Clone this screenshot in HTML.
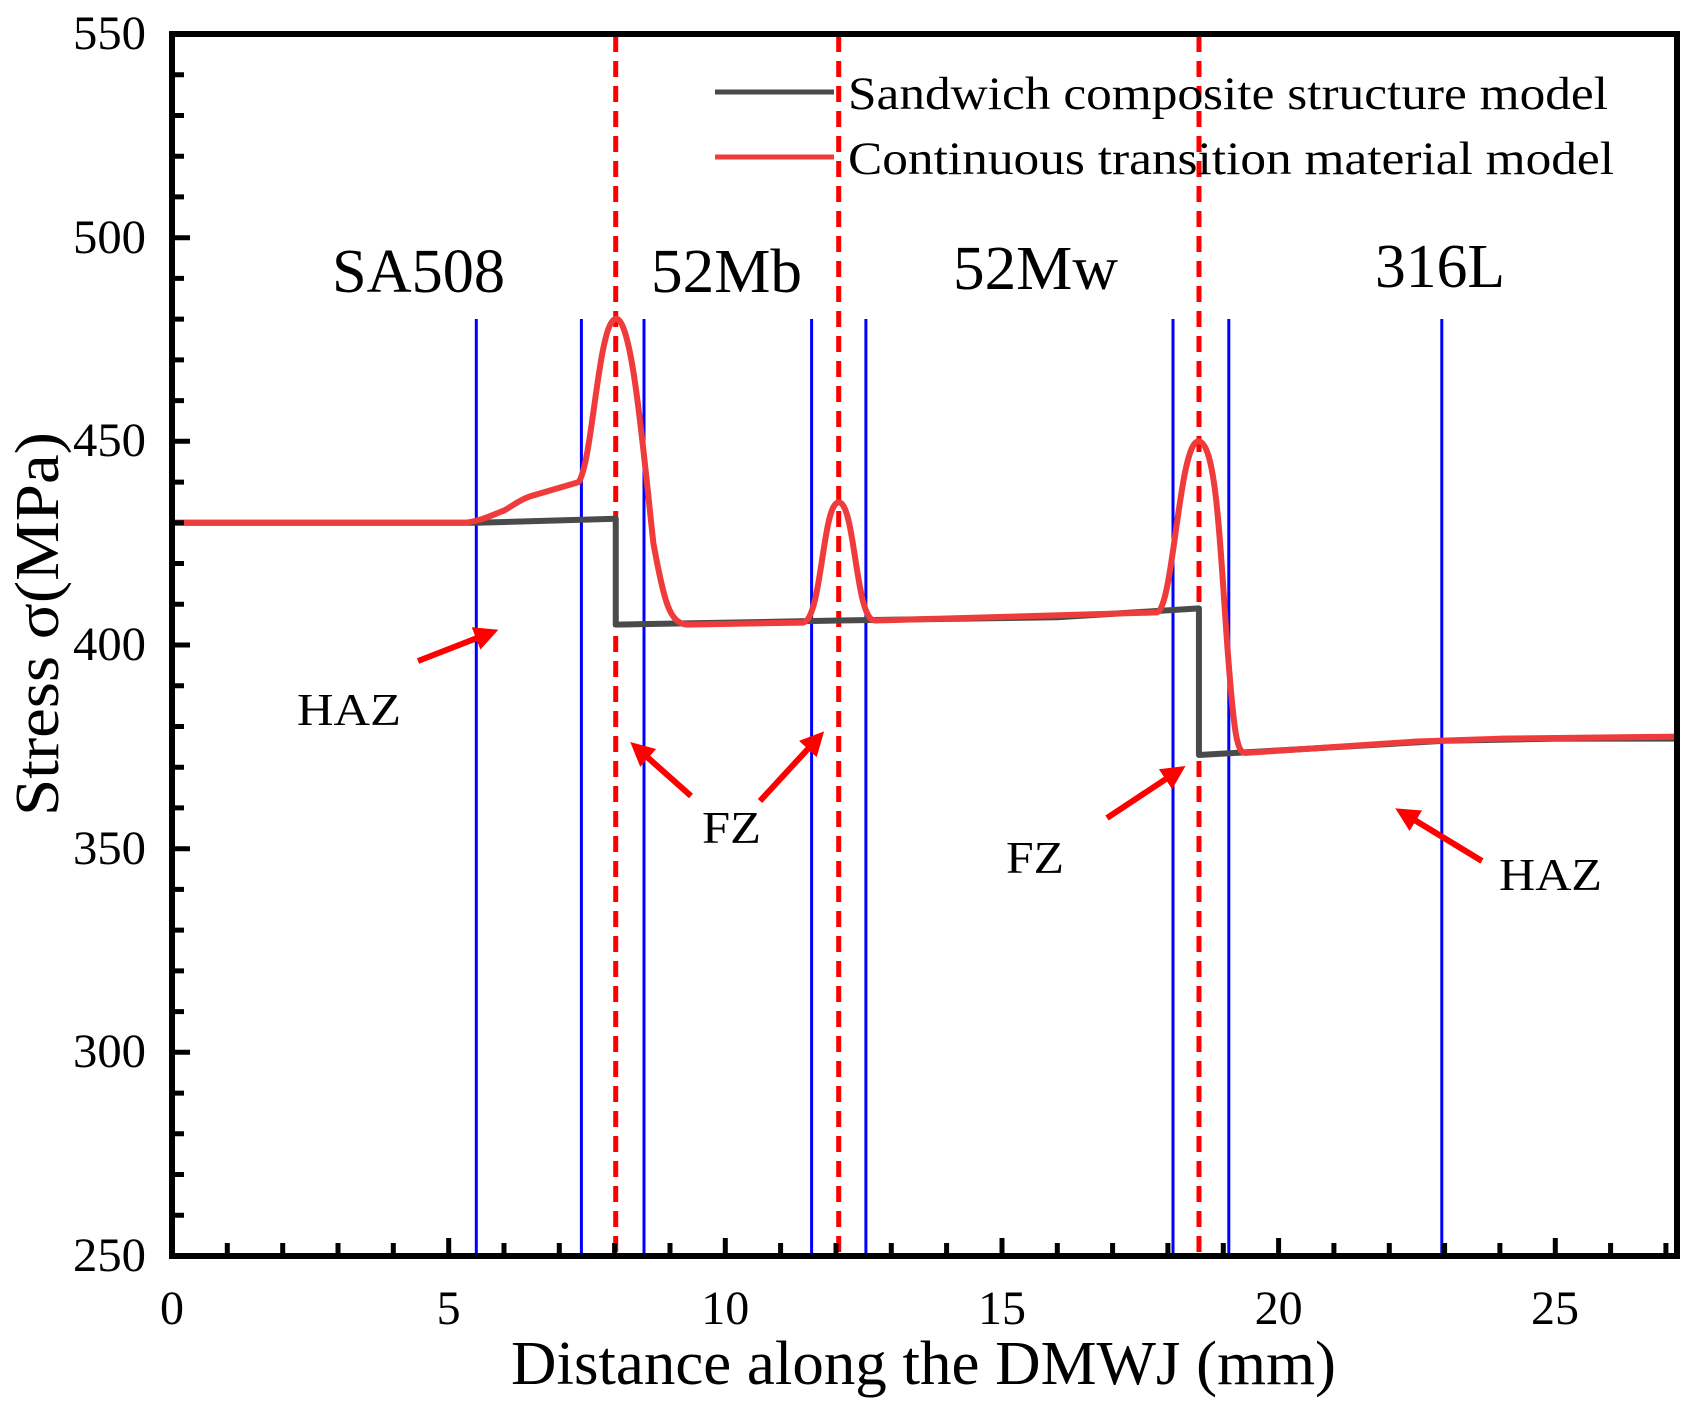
<!DOCTYPE html>
<html><head><meta charset="utf-8"><style>
html,body{margin:0;padding:0;background:#fff;}
svg{display:block;font-family:"Liberation Serif",serif;}
</style></head><body>
<svg width="1694" height="1408" viewBox="0 0 1694 1408" xmlns="http://www.w3.org/2000/svg">
<rect width="1694" height="1408" fill="#fff"/>
<g stroke="#0000ff" stroke-width="3">
<line x1="476.3" y1="319" x2="476.3" y2="1256"/>
<line x1="581.4" y1="319" x2="581.4" y2="1256"/>
<line x1="644" y1="319" x2="644" y2="1256"/>
<line x1="811.6" y1="319" x2="811.6" y2="1256"/>
<line x1="865.9" y1="319" x2="865.9" y2="1256"/>
<line x1="1173" y1="319" x2="1173" y2="1256"/>
<line x1="1228.8" y1="319" x2="1228.8" y2="1256"/>
<line x1="1441.8" y1="319" x2="1441.8" y2="1256"/>
</g>
<g stroke="#ff0000" stroke-width="5" stroke-dasharray="16,9">
<line x1="615.7" y1="36" x2="615.7" y2="1256"/>
<line x1="838.7" y1="36" x2="838.7" y2="1256"/>
<line x1="1199" y1="36" x2="1199" y2="1256"/>
</g>
<svg x="172" y="34" width="1505" height="1222" viewBox="0 0 27.2 300" preserveAspectRatio="none" overflow="visible">
<g transform="translate(0,550) scale(1,-1)" fill="none" stroke-linejoin="round">
<path vector-effect="non-scaling-stroke" stroke="#4a4a4a" stroke-width="6" d="M0,430 L5.5,430 L8.02,431 L8.02,405 L12.05,406 L16,406.8 L18.56,409 L18.56,373 L20.5,374.5 L23,376.5 L25,377 L27.2,377"/>
<path vector-effect="non-scaling-stroke" stroke="#ef3b3b" stroke-width="6" d="M0,430 L5.3,430 C5.6,430.5 5.8,432 6.0,433 C6.2,434.5 6.3,436 6.6,437 L7.35,440 C7.6,445 7.7,478 8.0,480 C8.3,482 8.5,450 8.7,425 C8.9,410 9.0,405.5 9.3,405 L11.4,405.5 C11.75,406 11.75,435 12.05,435 C12.35,435 12.35,406 12.7,406 L17.8,408 C18.1,409 18.2,450 18.55,450 C18.9,450 18.95,420 19.1,395 C19.2,378 19.25,373.5 19.4,373.5 L20.5,374.5 L22.5,376.3 L24,377 L27.2,377.5"/>
</g>
</svg>
<rect x="172" y="34" width="1505" height="1222" fill="none" stroke="#000" stroke-width="6"/>
<path stroke="#000" stroke-width="5" fill="none" d="M172,1215.3h12M172,1174.5h12M172,1133.8h12M172,1093.1h12M172,1052.3h18M172,1011.6h12M172,970.9h12M172,930.1h12M172,889.4h12M172,848.7h18M172,807.9h12M172,767.2h12M172,726.5h12M172,685.7h12M172,645h18M172,604.3h12M172,563.5h12M172,522.8h12M172,482.1h12M172,441.3h18M172,400.6h12M172,359.9h12M172,319.1h12M172,278.4h12M172,237.7h18M172,196.9h12M172,156.2h12M172,115.5h12M172,74.7h12
M227.3,1256v-13M282.7,1256v-13M338,1256v-13M393.3,1256v-13M448.7,1256v-18M504,1256v-13M559.3,1256v-13M614.6,1256v-13M670,1256v-13M725.3,1256v-18M780.6,1256v-13M836,1256v-13M891.3,1256v-13M946.6,1256v-13M1002,1256v-18M1057.3,1256v-13M1112.6,1256v-13M1167.9,1256v-13M1223.3,1256v-13M1278.6,1256v-18M1333.9,1256v-13M1389.3,1256v-13M1444.6,1256v-13M1499.9,1256v-13M1555.3,1256v-18M1610.6,1256v-13M1665.9,1256v-13"/>
<g font-size="48" text-anchor="end" fill="#000">
<text x="146" y="49" textLength="73" lengthAdjust="spacingAndGlyphs">550</text>
<text x="146" y="253" textLength="73" lengthAdjust="spacingAndGlyphs">500</text>
<text x="146" y="456" textLength="73" lengthAdjust="spacingAndGlyphs">450</text>
<text x="146" y="660" textLength="73" lengthAdjust="spacingAndGlyphs">400</text>
<text x="146" y="864" textLength="73" lengthAdjust="spacingAndGlyphs">350</text>
<text x="146" y="1067" textLength="73" lengthAdjust="spacingAndGlyphs">300</text>
<text x="146" y="1271" textLength="73" lengthAdjust="spacingAndGlyphs">250</text>
</g>
<g font-size="48" text-anchor="middle" fill="#000">
<text x="172" y="1324">0</text>
<text x="448.6" y="1324">5</text>
<text x="725.3" y="1324">10</text>
<text x="1002" y="1324">15</text>
<text x="1278.6" y="1324">20</text>
<text x="1555" y="1324">25</text>
</g>
<text x="511" y="1384" font-size="62" textLength="825" lengthAdjust="spacingAndGlyphs">Distance along the DMWJ (mm)</text>
<text transform="translate(58,816) rotate(-90)" font-size="62" textLength="384" lengthAdjust="spacingAndGlyphs">Stress  σ(MPa)</text>
<line x1="715" y1="92" x2="834" y2="92" stroke="#4a4a4a" stroke-width="5"/>
<line x1="715" y1="157" x2="834" y2="157" stroke="#ef3b3b" stroke-width="5"/>
<g font-size="47">
<text x="848" y="109" textLength="760" lengthAdjust="spacingAndGlyphs">Sandwich composite structure model</text>
<text x="848" y="174" textLength="766" lengthAdjust="spacingAndGlyphs">Continuous transition material model</text>
</g>
<g font-size="62">
<text x="332" y="292" textLength="173" lengthAdjust="spacingAndGlyphs">SA508</text>
<text x="651" y="292" textLength="151" lengthAdjust="spacingAndGlyphs">52Mb</text>
<text x="953" y="289" textLength="165" lengthAdjust="spacingAndGlyphs">52Mw</text>
<text x="1375" y="287" textLength="130" lengthAdjust="spacingAndGlyphs">316L</text>
</g>
<g font-size="46">
<text x="297" y="725" textLength="104" lengthAdjust="spacingAndGlyphs">HAZ</text>
<text x="702" y="843" textLength="59" lengthAdjust="spacingAndGlyphs">FZ</text>
<text x="1006" y="873" textLength="58" lengthAdjust="spacingAndGlyphs">FZ</text>
<text x="1499" y="890" textLength="103" lengthAdjust="spacingAndGlyphs">HAZ</text>
</g>
<defs><marker id="ah" markerWidth="4" markerHeight="4" refX="2.5" refY="2" orient="auto" markerUnits="strokeWidth"><path d="M0,0 L4,2 L0,4 z" fill="#ff0000"/></marker></defs>
<g stroke="#ff0000" stroke-width="6" marker-end="url(#ah)">
<line x1="418" y1="661" x2="490" y2="633"/>
<line x1="691" y1="796" x2="637" y2="748"/>
<line x1="760" y1="801" x2="818" y2="738"/>
<line x1="1107" y1="818" x2="1178" y2="771"/>
<line x1="1482" y1="861" x2="1403" y2="813"/>
</g>
</svg>
</body></html>
